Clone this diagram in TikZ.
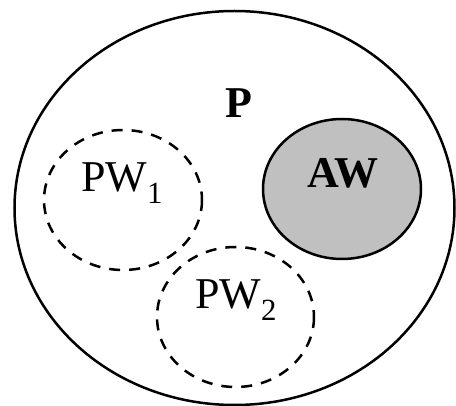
\documentclass[tikz,border=0pt]{standalone}
\usepackage{fontspec}
\setmainfont{Liberation Serif}
\begin{document}
\begin{tikzpicture}[x=1pt,y=-1pt,
  outline/.style={draw=black,line width=2.5pt},
  world/.style={draw=black,line width=2.5pt,dash pattern=on 11pt off 9pt},
  lbl/.style={font=\fontsize{44}{44}\selectfont},
  blbl/.style={font=\fontsize{44}{44}\selectfont\bfseries}]
\useasboundingbox (0,0) rectangle (456,406);
% outer set P
\draw[outline] (234.5,208) ellipse [x radius=220, y radius=197];
\node[blbl] (p) at (239,103) {P};
% actual world
\draw[outline,fill={rgb,255:red,192;green,192;blue,192}] (342,189) ellipse [x radius=79, y radius=70];
\node[blbl] (aw) at (343,173) {AW};
% possible worlds
\draw[world] (123,200) ellipse [x radius=79, y radius=70];
\node[lbl] (pw1) at (122,183) {PW\textsubscript{1}};
\draw[world] (235.5,317) ellipse [x radius=78.5, y radius=70];
\node[lbl] (pw2) at (236,300) {PW\textsubscript{2}};
\end{tikzpicture}
\end{document}
